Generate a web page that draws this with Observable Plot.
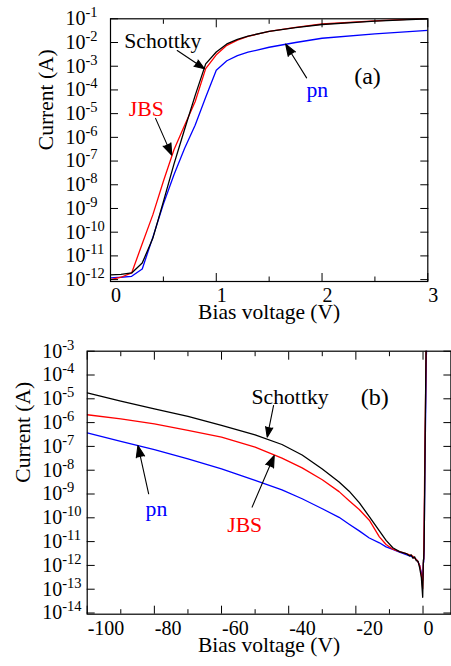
<!DOCTYPE html>
<html>
<head>
<meta charset="utf-8">
<script src="https://cdn.jsdelivr.net/npm/d3@7"></script>
<script src="https://cdn.jsdelivr.net/npm/@observablehq/plot@0.6"></script>
<style>
  html, body { margin: 0; padding: 0; background: #fff; }
  svg { display: block; }
</style>
</head>
<body>
<div id="panelA"></div>
<div id="panelB"></div>
<script>
// ---------- Panel (a): forward bias ----------
const fwdV = [0, 0.1, 0.2, 0.3, 0.4, 0.5, 0.6, 0.7, 0.8, 0.9, 1.0, 1.1, 1.2, 1.3, 1.5, 1.75, 2.0, 2.5, 3.0];
// log10 of current (A)
const fwdSchottky = [-11.8, -11.78, -11.72, -11.3, -10.26, -8.71, -7.13, -5.67, -4.24, -2.9, -2.4, -2.06, -1.87, -1.73, -1.53, -1.37, -1.24, -1.1, -1.0];
const fwdJBS      = [-12.0, -11.9, -11.72, -10.49, -9.27, -7.85, -6.52, -5.5, -4.5, -3.1, -2.52, -2.12, -1.9, -1.74, -1.53, -1.36, -1.22, -1.09, -0.98];
const fwdPn       = [-11.93, -11.9, -11.86, -11.55, -10.22, -8.81, -7.58, -6.47, -5.49, -4.31, -3.17, -2.77, -2.55, -2.41, -2.2, -2.0, -1.82, -1.64, -1.49];

// ---------- Panel (b): reverse bias ----------
const revV = [-100, -90, -80, -70, -60, -50, -42, -36, -30, -25, -22, -19, -16, -13, -11, -9, -7, -5, -4, -3.5, -3, -2.5, -2, -1.5, -1, -0.5, -0.1];
const revSchottky = [-4.75, -5.10, -5.42, -5.74, -6.12, -6.52, -6.92, -7.36, -7.95, -8.5, -8.88, -9.36, -9.95, -10.55, -10.95, -11.26, -11.42, -11.5, -11.6, -11.56, -11.7, -11.64, -11.8, -11.82, -12.1, -12.5, -13.34];
const revJBS      = [-5.67, -5.84, -6.05, -6.33, -6.61, -7.03, -7.49, -7.9, -8.4, -8.9, -9.28, -9.65, -10.1, -10.8, -11.12, -11.32, -11.42, -11.5, -11.56, -11.58, -11.62, -11.7, -11.75, -11.85, -12.0, -12.4, -12.98];
const revPn       = [-6.43, -6.79, -7.14, -7.52, -7.94, -8.43, -8.83, -9.2, -9.62, -9.98, -10.27, -10.55, -10.85, -11.05, -11.22, -11.33, -11.44, -11.55, -11.6, -11.62, -11.65, -11.7, -11.75, -11.85, -12.0, -12.3, -12.63];

// ---------- Axes / ticks ----------
const expA = [-12, -11, -10, -9, -8, -7, -6, -5, -4, -3, -2, -1];
const expB = [-14, -13, -12, -11, -10, -9, -8, -7, -6, -5, -4, -3];
const xMajorA = [0, 1, 2, 3];
const xMinorA = [0.5, 1.5, 2.5];
const xMajorB = [-100, -80, -60, -40, -20, 0];
const xMinorB = [-90, -70, -50, -30, -10];

// ---------- Annotations ----------
const seriesNames = ["Schottky", "JBS", "pn"];
const seriesColors = ["black", "red", "blue"];
// label positions (V, log10 I)
const labelVA = [0.495, 0.338, 1.955];
const labelLogA = [-1.945, -4.80, -4.0];
const arrowFromVA = [0.631, 0.426, 1.854];
const arrowFromLogA = [-2.34, -5.2, -3.49];
const arrowToVA = [0.889, 0.579, 1.656];
const arrowToLogA = [-3.11, -6.75, -2.07];

const labelVB = [-39.6, -53.1, -79.4];
const labelLogB = [-4.92, -10.3, -9.62];
const arrowFromVB = [-44.5, -50.9, -81.7];
const arrowFromLogB = [-5.28, -9.55, -8.99];
const arrowToVB = [-46.4, -44.3, -84.9];
const arrowToLogB = [-6.61, -7.38, -6.96];

const panelTagA = {text: "(a)", v: 2.43, log: -3.43};
const panelTagB = {text: "(b)", v: -14.4, log: -4.92};

// ---------- helpers ----------
const pow = (e) => 10 ** e;
function rows(V, L) { return V.map((v, i) => ({v, i: pow(L[i])})); }
function labelRows(V, L) { return seriesNames.map((n, k) => ({name: n, color: seriesColors[k], v: V[k], i: pow(L[k])})); }
function arrowRows(V1, L1, V2, L2) { return seriesNames.map((n, k) => ({v1: V1[k], i1: pow(L1[k]), v2: V2[k], i2: pow(L2[k])})); }

const FONT = "'Liberation Serif', 'Times New Roman', serif";
const supFmt = (d) => `10^${Math.round(Math.log10(d))}`;

function supTicks(svg) {
  const NS = "http://www.w3.org/2000/svg";
  svg.querySelectorAll('g[aria-label="y-axis tick label"] text').forEach((t) => {
    const m = /^10\^(-?\d+)$/.exec(t.textContent);
    if (!m) return;
    t.textContent = "";
    const b = document.createElementNS(NS, "tspan");
    b.textContent = "10";
    const e = document.createElementNS(NS, "tspan");
    e.setAttribute("dy", "-8");
    e.setAttribute("font-size", "14.5");
    e.textContent = m[1];
    t.append(b, e);
  });
}

function tickMarks(xMajor, xMinor, yTicks) {
  return [
    Plot.axisX({anchor: "bottom", ticks: xMajor, tickSize: -8, fill: "none", label: null}),
    Plot.axisX({anchor: "top", ticks: xMajor, tickSize: -8, fill: "none", label: null}),
    Plot.axisX({anchor: "bottom", ticks: xMinor, tickSize: -4.5, fill: "none", label: null}),
    Plot.axisX({anchor: "top", ticks: xMinor, tickSize: -4.5, fill: "none", label: null}),
    Plot.axisY({anchor: "left", ticks: yTicks, tickSize: -8, fill: "none", label: null}),
    Plot.axisY({anchor: "right", ticks: yTicks, tickSize: -8, fill: "none", label: null}),
    Plot.axisY({anchor: "left", ticks: yTicks, tickSize: 0, tickPadding: 45, textAnchor: "start", tickFormat: supFmt, label: null}),
    Plot.axisX({anchor: "bottom", ticks: xMajor, tickSize: 0, tickPadding: 6.5, textAnchor: "start", dx: 0.5, tickFormat: (d) => String(d), label: null})
  ];
}

function curveMarks(data) {
  // draw order: pn, JBS, Schottky on top
  return [
    Plot.line(data.pn, {x: "v", y: "i", stroke: "blue", strokeWidth: 1.3, clip: true}),
    Plot.line(data.jbs, {x: "v", y: "i", stroke: "red", strokeWidth: 1.3, clip: true}),
    Plot.line(data.sch, {x: "v", y: "i", stroke: "black", strokeWidth: 1.3, clip: true})
  ];
}

function annotationMarks(labels, arrows, tag) {
  return [
    Plot.arrow(arrows, {x1: "v1", y1: "i1", x2: "v2", y2: "i2", stroke: "black", fill: "black", strokeWidth: 1.1, headLength: 17, headAngle: 40}),
    Plot.text(labels, {x: "v", y: "i", text: "name", fill: "color", fontSize: 21.7, fontFamily: FONT}),
    Plot.text([tag], {x: "v", y: (d) => pow(d.log), text: "text", fill: "black", fontSize: 24, fontFamily: FONT})
  ];
}

function axisTitles() {
  return [
    Plot.text(["Current (A)"], {frameAnchor: "left", dx: -64.5, rotate: -90, fontSize: 21.5, fontFamily: FONT, fill: "black"}),
    Plot.text(["Bias voltage (V)"], {frameAnchor: "bottom", dy: 37.5, fontSize: 21.5, fontFamily: FONT, fill: "black"})
  ];
}

// ---------- Panel (a) ----------
const dataA = {sch: rows(fwdV, fwdSchottky), jbs: rows(fwdV, fwdJBS), pn: rows(fwdV, fwdPn)};
const plotA = Plot.plot({
  width: 451,
  height: 333,
  marginLeft: 110,
  marginRight: 23.7,
  marginTop: 18.3,
  marginBottom: 52,
  style: {fontFamily: FONT, fontSize: "20px", color: "black", background: "white", overflow: "visible"},
  x: {domain: [0, 3]},
  y: {type: "log", domain: [pow(-12.08), pow(-1)]},
  marks: [
    ...curveMarks(dataA),
    ...annotationMarks(labelRows(labelVA, labelLogA), arrowRows(arrowFromVA, arrowFromLogA, arrowToVA, arrowToLogA), panelTagA),
    ...tickMarks(xMajorA, xMinorA, expA.map(pow)),
    ...axisTitles(),
    Plot.frame({stroke: "black", strokeWidth: 1.2})
  ]
});
supTicks(plotA);
document.getElementById("panelA").append(plotA);

// ---------- Panel (b) ----------
const fwdTail = (L) => ({V: fwdV.slice(1), L: L.slice(1)});
function joinRev(revL, fwdL) {
  const t = fwdTail(fwdL);
  return rows(revV.concat(t.V), revL.concat(t.L));
}
const dataB = {sch: joinRev(revSchottky, fwdSchottky), jbs: joinRev(revJBS, fwdJBS), pn: joinRev(revPn, fwdPn)};
const plotB = Plot.plot({
  width: 451,
  height: 333,
  marginLeft: 86.7,
  marginRight: 0.6,
  marginTop: 17.7,
  marginBottom: 52.3,
  style: {fontFamily: FONT, fontSize: "20px", color: "black", background: "white", overflow: "visible"},
  x: {domain: [-100, 8.3]},
  y: {type: "log", domain: [pow(-14.05), pow(-3)]},
  marks: [
    ...curveMarks(dataB),
    ...annotationMarks(labelRows(labelVB, labelLogB), arrowRows(arrowFromVB, arrowFromLogB, arrowToVB, arrowToLogB), panelTagB),
    ...tickMarks(xMajorB, xMinorB, expB.map(pow)),
    ...axisTitles(),
    Plot.frame({stroke: "black", strokeWidth: 1.2})
  ]
});
supTicks(plotB);
document.getElementById("panelB").append(plotB);
</script>
</body>
</html>
